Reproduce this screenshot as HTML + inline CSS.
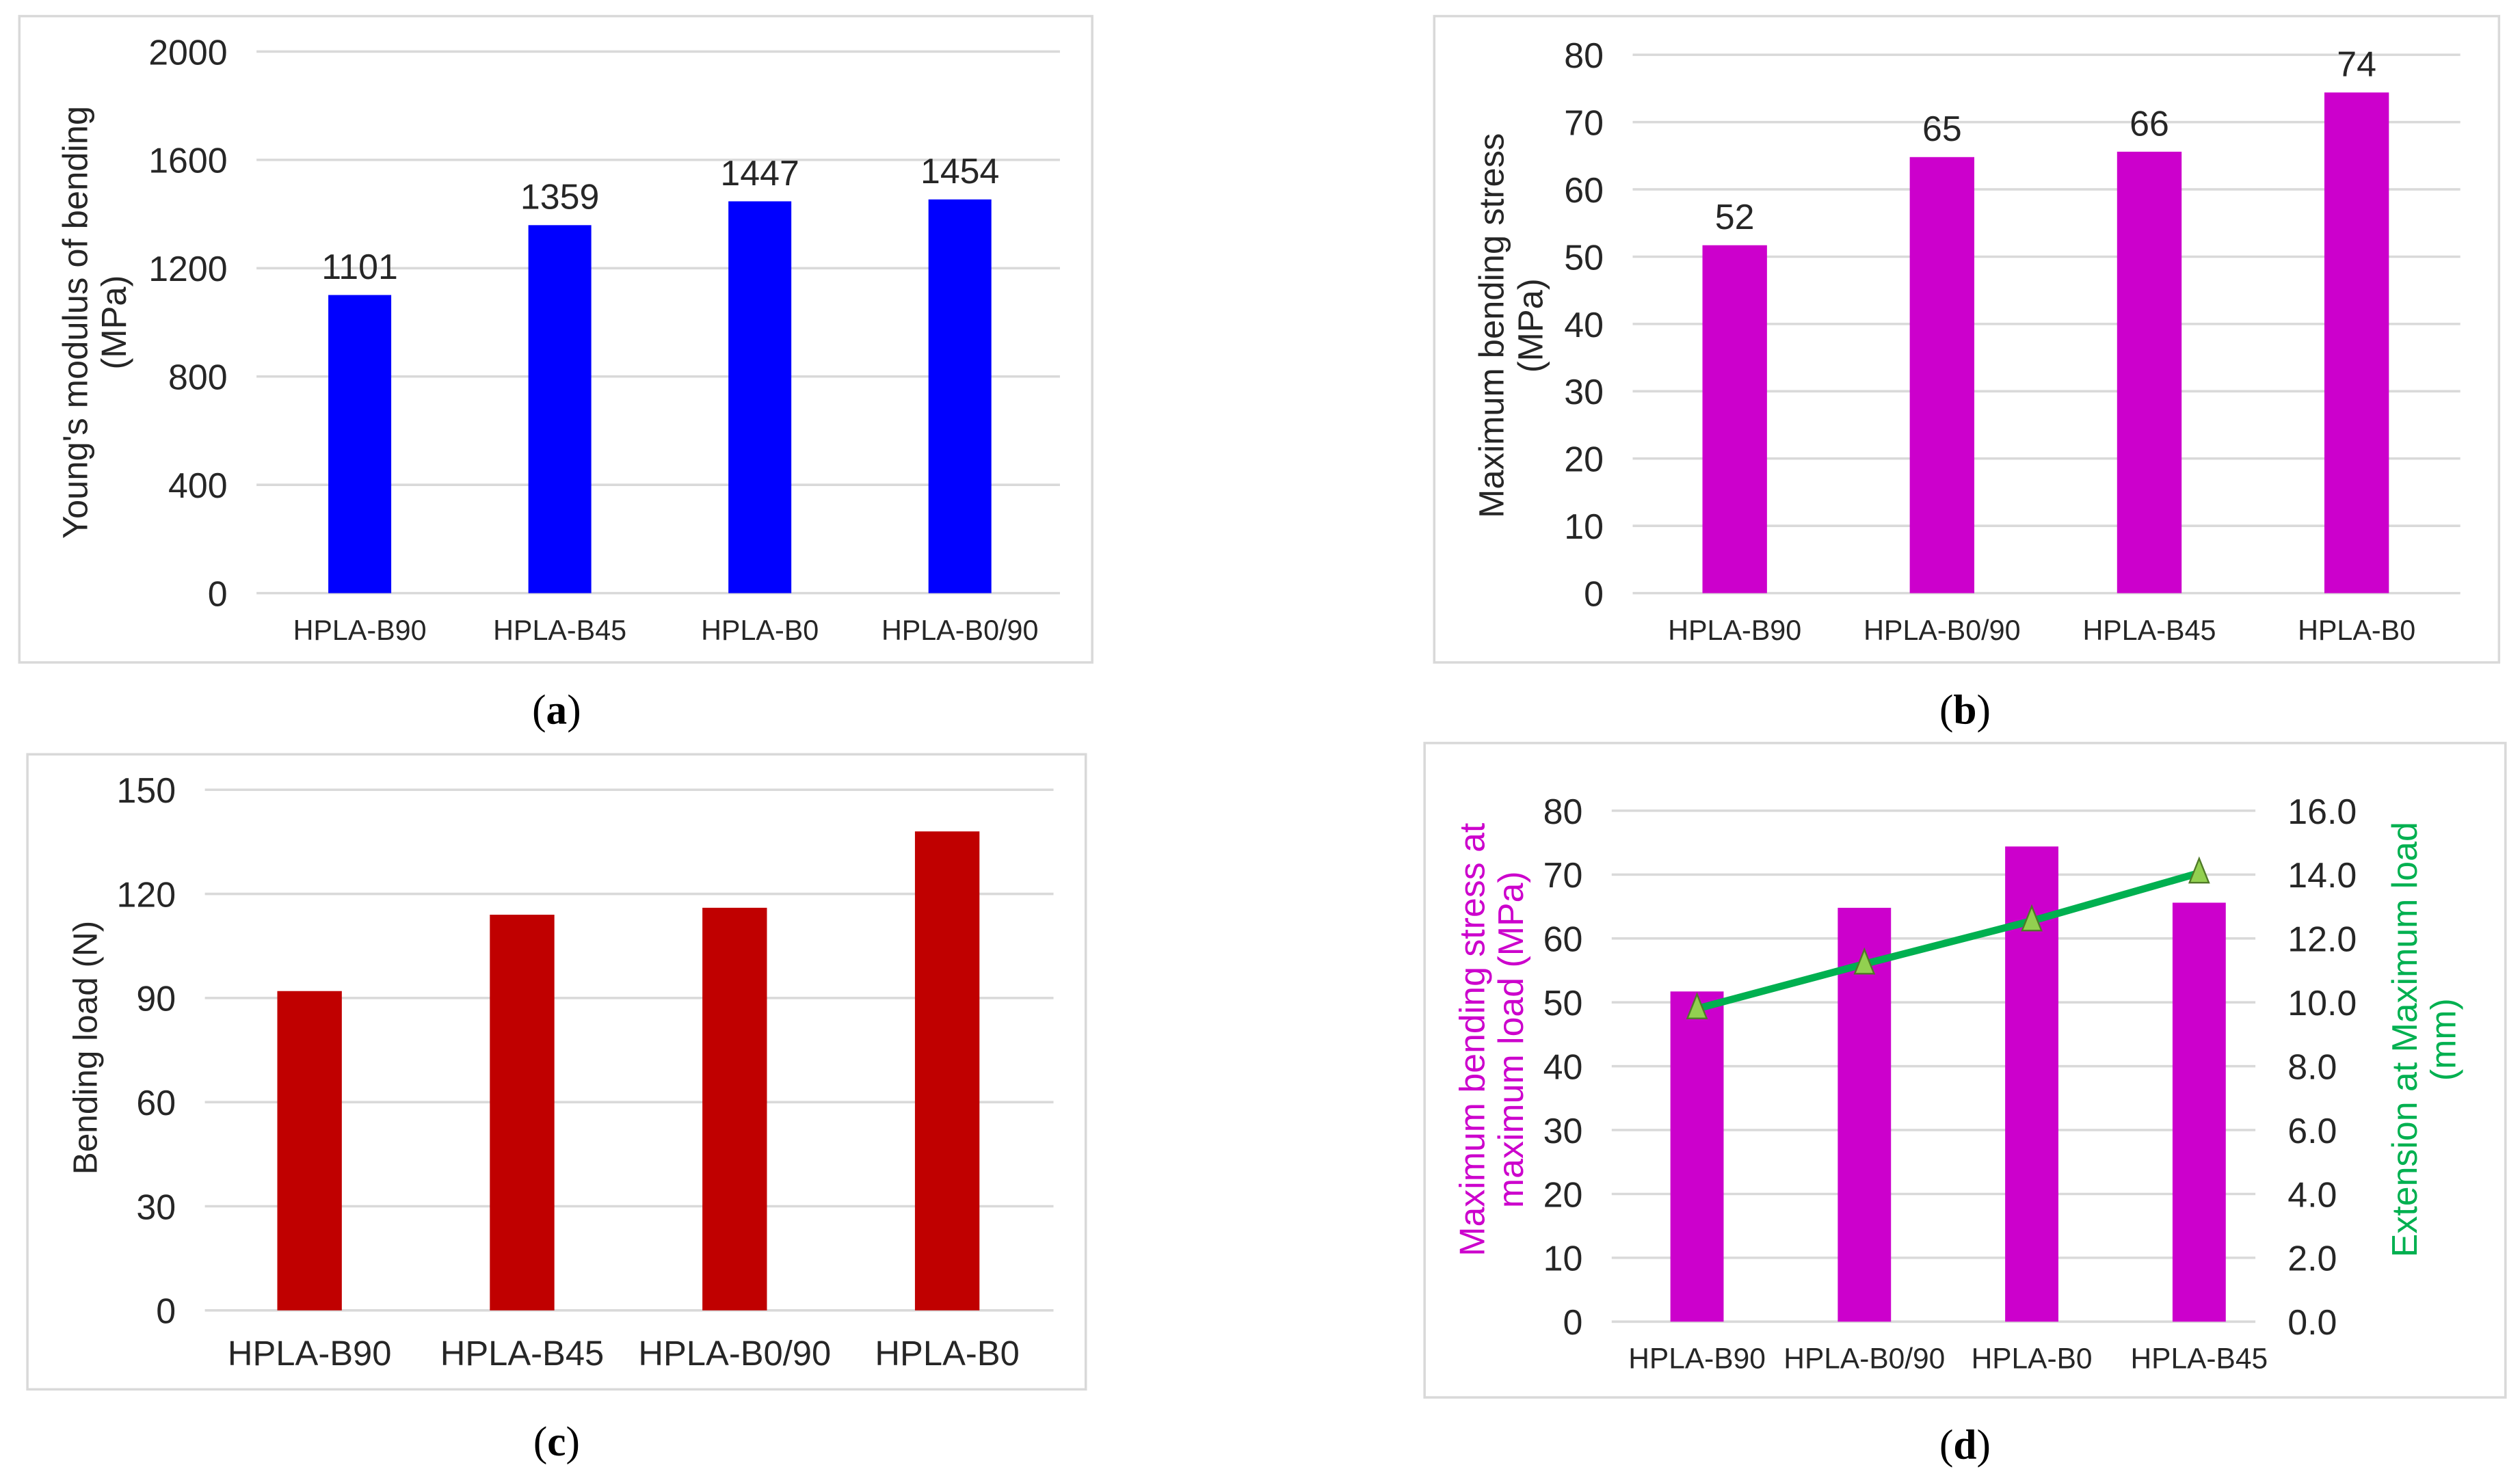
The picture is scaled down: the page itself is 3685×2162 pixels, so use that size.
<!DOCTYPE html>
<html><head><meta charset="utf-8"><style>
html,body{margin:0;padding:0;background:#fff;width:3685px;height:2162px;overflow:hidden}
svg{display:block}
text{font-family:"Liberation Sans",Arial,sans-serif;fill:#262626}
.cap{font-family:"Liberation Serif",serif;font-size:26px;fill:#000}
</style></head><body>
<svg id="fig" width="3685" height="2162" viewBox="0 0 1562 917" preserveAspectRatio="none" xmlns="http://www.w3.org/2000/svg"></svg>
<script>
const aCats=["HPLA-B90","HPLA-B45","HPLA-B0","HPLA-B0/90"];
const aVals=[1101,1359,1447,1454];
const aTicks=[0,400,800,1200,1600,2000];
const bCats=["HPLA-B90","HPLA-B0/90","HPLA-B45","HPLA-B0"];
const bVals=[51.7,64.8,65.6,74.4];
const bLabels=["52","65","66","74"];
const bTicks=[0,10,20,30,40,50,60,70,80];
const cCats=["HPLA-B90","HPLA-B45","HPLA-B0/90","HPLA-B0"];
const cVals=[92,114,116,138];
const cTicks=[0,30,60,90,120,150];
const dCats=["HPLA-B90","HPLA-B0/90","HPLA-B0","HPLA-B45"];
const dBars=[51.7,64.8,74.4,65.6];
const dLine=[9.8,11.2,12.55,14.05];
const dTicks=[0,10,20,30,40,50,60,70,80];
const dRTicks=["0.0","2.0","4.0","6.0","8.0","10.0","12.0","14.0","16.0"];

const svg=document.getElementById('fig');
const NS="http://www.w3.org/2000/svg";
function mk(tag,attrs,parent,txt){const e=document.createElementNS(NS,tag);for(const k in attrs)e.setAttribute(k,attrs[k]);if(txt!==undefined)e.textContent=txt;(parent||svg).appendChild(e);return e;}

function panel(o){
  const g=mk('g',{});
  
  
  const fr=mk('rect',{x:o.fx,y:o.fy,width:o.fw,height:o.fh,fill:'#fff',stroke:'#d9d9d9','stroke-width':1.5},g);
  
  
  const y=v=>o.y0-(v-o.min)/(o.max-o.min)*(o.y0-o.y1);
  const n=o.cats.length, cw=(o.x1-o.x0)/n;
  const x=i=>o.x0+cw*(i+0.5);
  o.ticks.forEach(t=>{
    const l=mk('line',{x1:o.gx0,x2:o.gx1,y1:y(t),y2:y(t),stroke:'#d9d9d9','stroke-width':1.5},g);
    
    
    const tx=mk('text',{x:o.gx0-18,y:y(t)+8,'text-anchor':'end','font-size':o.tfs},g,String(t));
    
    
  });
  o.vals.forEach((v,i)=>{
    const r=mk('rect',{x:x(i)-o.bw/2,y:y(v),width:o.bw,height:o.y0-y(v),fill:o.color},g);
    
    
    if(o.labels){
      const t=mk('text',{x:x(i),y:y(v)-10,'text-anchor':'middle','font-size':o.tfs},g,o.labels[i]);
      
      
    }
    const c=mk('text',{x:x(i),y:o.y0+o.cdy,'text-anchor':'middle','font-size':o.cfs},g,o.cats[i]);
    
    
  });
  const tt=mk('text',{transform:`translate(${o.tx},${o.ty}) rotate(-90)`,'text-anchor':'middle','font-size':o.ttfs,fill:o.tcol||'#262626'},g);
  
  
  o.title.forEach((s,k)=>{mk('tspan',{x:0,dy:k?24:0,fill:o.tcol||'#262626'},tt,s);});
  const cp=mk('text',{x:o.capx,y:o.capy,'text-anchor':'middle',class:'cap'},g);
  
  
  mk('tspan',{},cp,'(');mk('tspan',{'font-weight':'bold'},cp,o.cap);mk('tspan',{},cp,')');
  return {g,x,y};
}

panel({name:'chart-a',fx:12,fy:10,fw:665,fh:401,x0:161,x1:657,gx0:159,gx1:657,y0:368,y1:32,min:0,max:2000,
  ticks:aTicks,cats:aCats,vals:aVals,labels:aVals.map(String),bw:39,color:'#0000FF',tfs:22,cfs:17.5,cdy:29,ttfs:21.5,
  title:["Young's modulus of bending","(MPa)"],tx:54,ty:200,capx:345,capy:449,cap:'a'});

panel({name:'chart-b',fx:889,fy:10,fw:660,fh:401,x0:1011,x1:1525,gx0:1012,gx1:1525,y0:368,y1:34,min:0,max:80,
  ticks:bTicks,cats:bCats,vals:bVals,labels:bLabels,bw:40,color:'#CC00CC',tfs:22,cfs:17.5,cdy:29,ttfs:21.5,
  title:["Maximum bending stress","(MPa)"],tx:932,ty:202,capx:1218,capy:449,cap:'b'});

panel({name:'chart-c',fx:17,fy:468,fw:656,fh:394,x0:126,x1:653,gx0:127,gx1:653,y0:813,y1:490,min:0,max:150,
  ticks:cTicks,cats:cCats,vals:cVals,bw:40,color:'#C00000',tfs:22,cfs:21.5,cdy:34,ttfs:21,
  title:["Bending load (N)"],tx:60,ty:650,capx:345,capy:903,cap:'c'});

const d=panel({name:'chart-d',fx:883,fy:461,fw:670,fh:406,x0:1000,x1:1415,gx0:999,gx1:1398,y0:820,y1:503,min:0,max:80,
  ticks:dTicks,cats:dCats,vals:dBars,bw:33,color:'#CC00CC',tfs:22,cfs:18,cdy:29,ttfs:22,
  title:["Maximum bending stress at","maximum load (MPa)"],tx:920,ty:645,tcol:'#CC00CC',capx:1218,capy:905,cap:'d'});
const yr=v=>820-v/16*(820-503);
dRTicks.forEach(t=>{
  const tx=mk('text',{x:1418,y:yr(parseFloat(t))+8,'font-size':22},d.g,t);
  
  
});
const rt=mk('text',{transform:'translate(1498,645) rotate(-90)','text-anchor':'middle','font-size':22},d.g);


mk('tspan',{x:0,dy:0,fill:'#00B050'},rt,'Extension at Maximum load');
mk('tspan',{x:0,dy:24,fill:'#00B050'},rt,'(mm)');
const pts=dLine.map((v,i)=>d.x(i)+','+yr(v)).join(' ');
const pl=mk('polyline',{points:pts,fill:'none',stroke:'#00B050','stroke-width':4.5},d.g);


dLine.forEach((v,i)=>{
  const cx=d.x(i),cy=yr(v);
  const m=mk('polygon',{points:`${cx},${cy-9} ${cx-6},${cy+6} ${cx+6},${cy+6}`,fill:'#92D050',stroke:'#4F7A28','stroke-width':1},d.g);
  
  
});
</script>
</body></html>
